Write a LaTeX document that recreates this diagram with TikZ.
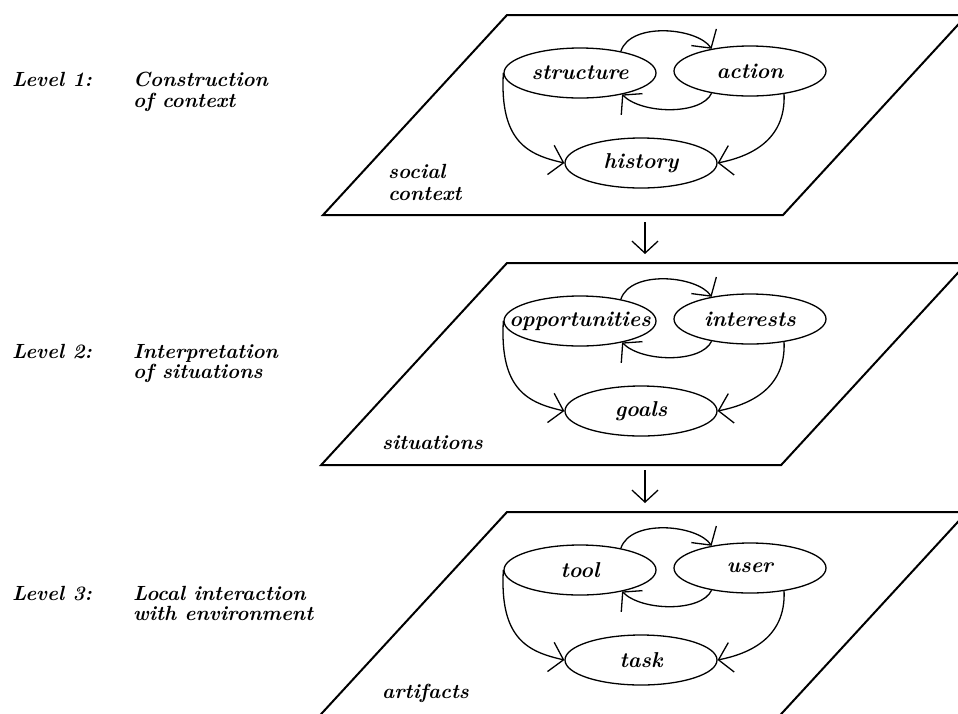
\documentclass[tikz,border=0pt]{standalone}
\usetikzlibrary{arrows.meta,shapes.geometric}
\begin{document}
\begin{tikzpicture}[x=1pt,y=-1pt,
  plane/.style={line width=2pt,line join=miter},
  oval/.style={draw,ellipse,line width=1.3pt,minimum width=152pt,minimum height=50pt,inner sep=0pt},
  txt/.style={font=\fontsize{20.5}{24}\selectfont\bfseries\itshape,inner sep=0pt},
  ovaltxt/.style={font=\fontsize{21.5}{24}\selectfont\bfseries\itshape,inner sep=0pt},
  loop/.style={line width=1.3pt,-{Straight Barb[length=13pt,width=30pt,line width=1.3pt]}},
  downarrow/.style={line width=1.3pt,-{Straight Barb[length=12pt,width=26pt,line width=1.3pt]}},
]
\useasboundingbox (0,0) rectangle (958,713);

% one plane: #1 suffix, #2 top y, #3 plane depth, #4 left oval, #5 right oval, #6 lower oval
\newcommand\levelplane[6]{%
  \begin{scope}[shift={(0,#2)}]
    \draw[plane] (507,0) -- (967,0) -- (967-0.92*#3,#3) -- (507-0.92*#3,#3) -- cycle;
    \node[oval,label={[ovaltxt,name=ta#1]center:#4}] (a#1) at (580,58) {};
    \node[oval,label={[ovaltxt,name=tb#1]center:#5}] (b#1) at (750,56) {};
    \node[oval,label={[ovaltxt,name=tc#1]center:#6}] (c#1) at (641,148) {};
    \draw[loop] (a#1.28) .. controls +(10,-30) and +(-14,-21) .. (b#1.150);
    \draw[loop] (b#1.-150) .. controls +(-10,22) and +(20,20) .. (a#1.-27);
    \draw[loop] (a#1.west) .. controls +(-4,70) and +(-35,-8) .. (c#1.west);
    \draw[loop] (b#1.-34) .. controls +(2,48) and +(30,-6) .. (c#1.east);
    \coordinate (top#1) at (645,-9);
    \coordinate (bot#1) at (645,207);
  \end{scope}}

\levelplane{1}{15}{200}{structure}{action}{history}
\levelplane{2}{263}{202}{opportunities}{interests}{goals}
\levelplane{3}{512}{210}{tool}{user}{task}

% arrows between the planes
\draw[downarrow] (bot1) -- (top2);
\draw[downarrow] (bot2) -- (top3);

% plane names
\node[txt,anchor=base west] (n1a) at (388,178) {social};
\node[txt,anchor=base west] (n1b) at (388,200) {context};
\node[txt,anchor=base west] (n2) at (382,449) {situations};
\node[txt,anchor=base west] (n3) at (382,698) {artifacts};

% level captions
\node[txt,anchor=base west] (l1) at (12,86) {Level 1:};
\node[txt,anchor=base west] (l1a) at (133,86) {Construction};
\node[txt,anchor=base west] (l1b) at (133,107) {of context};
\node[txt,anchor=base west] (l2) at (12,358) {Level 2:};
\node[txt,anchor=base west] (l2a) at (133,358) {Interpretation};
\node[txt,anchor=base west] (l2b) at (133,378) {of situations};
\node[txt,anchor=base west] (l3) at (12,600) {Level 3:};
\node[txt,anchor=base west] (l3a) at (133,600) {Local interaction};
\node[txt,anchor=base west] (l3b) at (133,620) {with environment};
\end{tikzpicture}
\end{document}
